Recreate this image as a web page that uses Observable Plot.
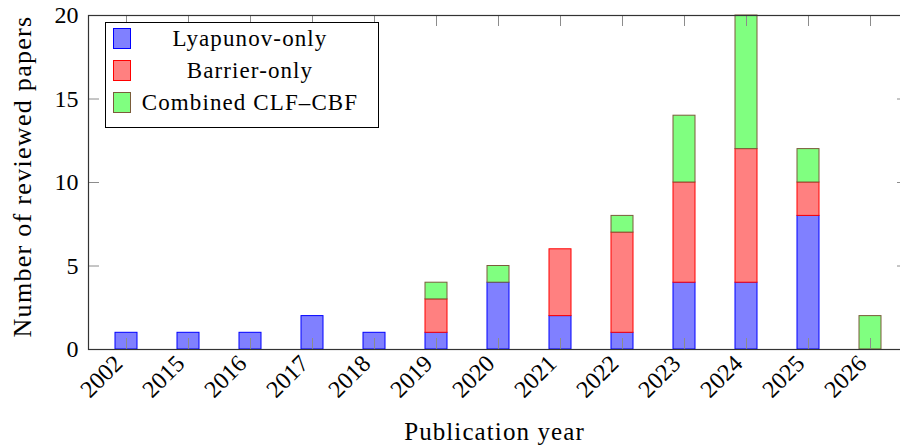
<!DOCTYPE html>
<html>
<head>
<meta charset="utf-8">
<script src="https://cdn.jsdelivr.net/npm/d3@7"></script>
<script src="https://cdn.jsdelivr.net/npm/@observablehq/plot@0.6"></script>
<style>
  html, body { margin: 0; padding: 0; background: #fff; overflow: hidden; }
  #chart { width: 900px; height: 445px; }
</style>
</head>
<body>
<div id="chart"></div>
<script>
const years = ["2002","2015","2016","2017","2018","2019","2020","2021","2022","2023","2024","2025","2026"];
const lyapunov = [1,1,1,2,1,1,4,2,1,4,4,8,0];
const barrier  = [0,0,0,0,0,2,0,4,6,6,8,2,0];
const combined = [0,0,0,0,0,1,1,0,1,4,8,2,2];
const seriesNames = ["Lyapunov-only","Barrier-only","Combined CLF\u2013CBF"];
const fillColors = ["#8080ff","#ff8080","#80ff80"];
const strokeColors = ["#0000ff","#ff0000","#7a5c3a"];
const yTicks = [0,5,10,15,20];
const xTitle = "Publication year";
const yTitle = "Number of reviewed papers";

const seriesValues = [lyapunov, barrier, combined];
const rows = [];
years.forEach((yr, i) => {
  seriesValues.forEach((vals, s) => {
    if (vals[i] > 0) rows.push({year: yr, series: seriesNames[s], s, value: vals[i]});
  });
});

const FONT = "'Liberation Serif', 'Times New Roman', serif";
const W = 900, H = 445, ML = 88, MR = -8, MT = 15, MB = 96;
const frameW = W - ML - MR, frameH = H - MT - MB;
const TICK = 11;

const svg = Plot.plot({
  width: W, height: H,
  marginLeft: ML, marginRight: MR, marginTop: MT, marginBottom: MB,
  style: {fontFamily: FONT, fontSize: "24px", color: "#000", background: "#fff", overflow: "visible"},
  x: {domain: years, paddingInner: 0.65, paddingOuter: 0.43, label: null},
  y: {domain: [0, 20], label: null},
  marks: [
    Plot.barY(rows, Plot.stackY({
      x: "year", y: "value", z: "series",
      fill: d => fillColors[d.s], stroke: d => strokeColors[d.s], strokeWidth: 1
    })),
    Plot.tickX(years, {x: d => d, stroke: "#8c8c8c", strokeWidth: 1, insetTop: frameH - TICK}),
    Plot.tickX(years, {x: d => d, stroke: "#8c8c8c", strokeWidth: 1, insetBottom: frameH - TICK}),
    Plot.tickY(yTicks, {y: d => d, stroke: "#8c8c8c", strokeWidth: 1, insetRight: frameW - TICK}),
    Plot.tickY(yTicks, {y: d => d, stroke: "#8c8c8c", strokeWidth: 1, insetLeft: frameW - TICK}),
    Plot.frame({stroke: "#333", strokeWidth: 1.2}),
    Plot.axisX({tickSize: 0, tickPadding: 10, dx: -8, tickRotate: -45, fontSize: 24, label: null}),
    Plot.axisY({ticks: yTicks, tickSize: 0, tickPadding: 10, fontSize: 24, label: null}),
    Plot.text([yTitle], {frameAnchor: "left", textAnchor: "middle", rotate: -90, dx: -66, dy: -6, fontSize: 26, fill: "#000", text: d => d}),
    Plot.text([xTitle], {frameAnchor: "bottom", textAnchor: "middle", dy: 82, dx: -4, lineAnchor: "middle", fontSize: 25, fill: "#000", text: d => d})
  ]
});

// letter spacing to approximate Computer Modern widths
d3.select(svg).selectAll("text").each(function() {
  const t = this.textContent;
  if (t === yTitle) d3.select(this).style("letter-spacing", "1.3px");
  if (t === xTitle) d3.select(this).style("letter-spacing", "1.1px");
});

// Legend (pixel layout, pgfplots-style box)
const g = d3.select(svg).append("g").attr("font-family", FONT).attr("font-size", 23)
  .style("letter-spacing", "1.1px");
g.append("rect").attr("x", 105.5).attr("y", 22.5).attr("width", 273).attr("height", 105)
  .attr("fill", "#fff").attr("stroke", "#000").attr("stroke-width", 1);
seriesNames.forEach((name, i) => {
  const y0 = 28 + i * 32;
  g.append("rect").attr("x", 113.5).attr("y", y0 + 0.5).attr("width", 17).attr("height", 20)
    .attr("fill", fillColors[i]).attr("stroke", strokeColors[i]).attr("stroke-width", 1);
  g.append("text").attr("x", 250).attr("y", y0 + 18).attr("text-anchor", "middle")
    .attr("fill", "#000").text(name);
});

document.getElementById("chart").appendChild(svg);
</script>
</body>
</html>
